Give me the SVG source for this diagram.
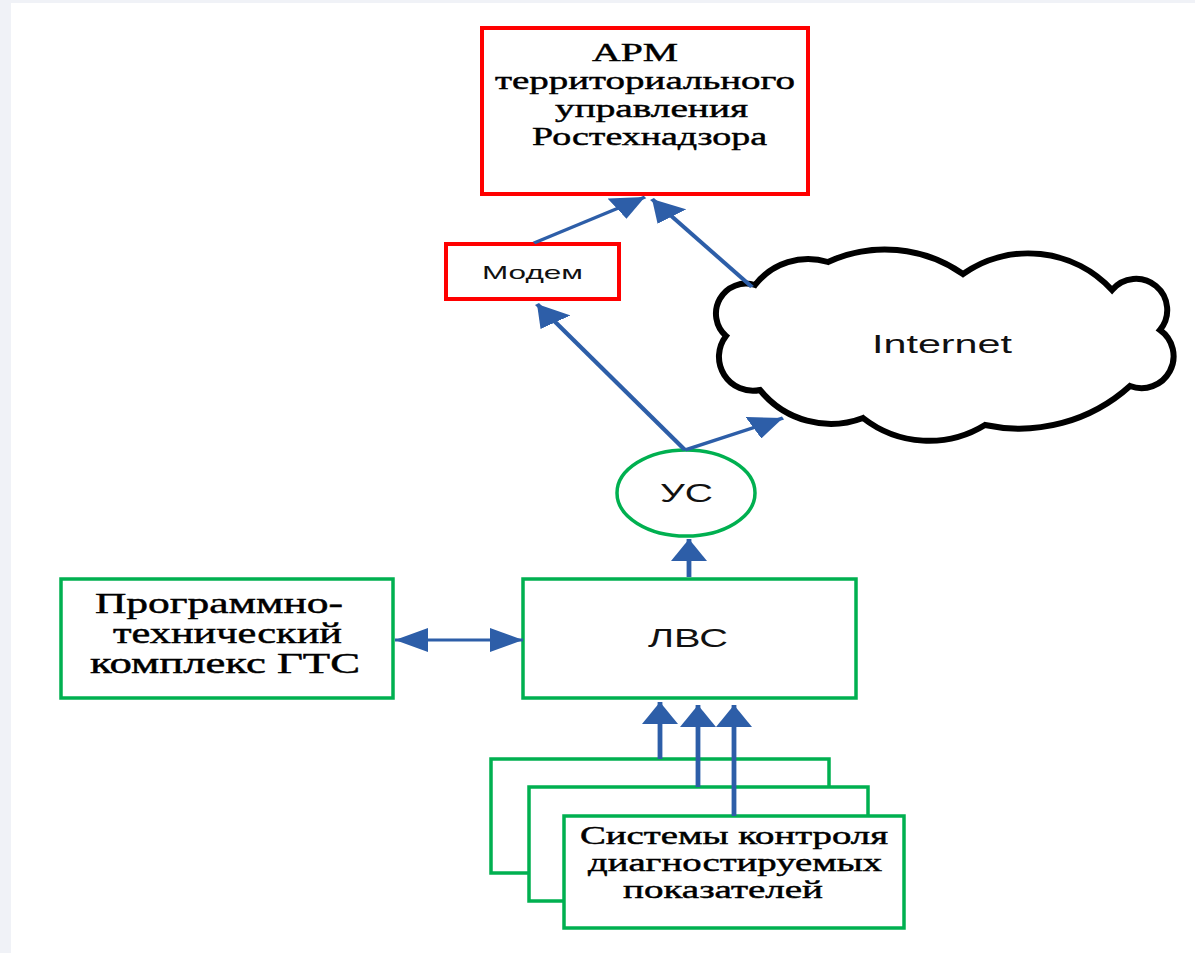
<svg xmlns="http://www.w3.org/2000/svg" width="1195" height="953" viewBox="0 0 1195 953">
  <style>
    .serif { font-family: "Liberation Serif", "Times New Roman", serif; fill: #000; stroke: #000; stroke-width: 0.45; }
    .sans { font-family: "Liberation Sans", Arial, sans-serif; fill: #111; }
    .red { fill: #fff; stroke: #ff0000; stroke-width: 4; }
    .green { fill: #fff; stroke: #00b050; stroke-width: 3.5; }
    .conn { stroke: #2d5ea8; stroke-width: 3.2; fill: none; }
  </style>
  <defs>
    <marker id="ah" markerUnits="userSpaceOnUse" viewBox="0 0 22 24" markerWidth="22" markerHeight="24" refX="22" refY="12" orient="auto-start-reverse">
      <path d="M0,0 L22,12 L0,24 Z" fill="#2d5ea8"/>
    </marker>
  </defs>
  <rect x="0" y="0" width="1195" height="953" fill="#f0f2f7"/>
  <rect x="11" y="3" width="1184" height="950" fill="#ffffff"/>

  <g id="arm">
    <rect class="red" x="482" y="28" width="326" height="166"/>
    <text class="serif" font-size="26" x="592" y="61" textLength="86" lengthAdjust="spacingAndGlyphs">АРМ</text>
    <text class="serif" font-size="26" x="495" y="89" textLength="300" lengthAdjust="spacingAndGlyphs">территориального</text>
    <text class="serif" font-size="26" x="555" y="117" textLength="193" lengthAdjust="spacingAndGlyphs">управления</text>
    <text class="serif" font-size="26" x="532" y="145" textLength="235" lengthAdjust="spacingAndGlyphs">Ростехнадзора</text>
  </g>

  <g id="modem">
    <rect class="red" x="446" y="244" width="173" height="55"/>
    <text class="sans" font-size="19" x="482" y="279" textLength="101" lengthAdjust="spacingAndGlyphs">Модем</text>
  </g>

  <g id="internet">
    <path d="M726,336 A30,30 0 0 1 755,285 A67,67 0 0 1 828,262 A136,136 0 0 1 963,274 A114,114 0 0 1 1112,290 A31,31 0 0 1 1160,330 A32,32 0 0 1 1130,386 A165,165 0 0 1 985,425 A107,107 0 0 1 863,418 A91,91 0 0 1 760,390 A34,34 0 0 1 726,336 Z" fill="#fff" stroke="#000" stroke-width="6" stroke-linejoin="miter"/>
    <text class="sans" font-size="25" x="872" y="353" textLength="140" lengthAdjust="spacingAndGlyphs">Internet</text>
  </g>

  <g id="us">
    <ellipse cx="686" cy="493" rx="69" ry="43" fill="#fff" stroke="#00b050" stroke-width="3.5"/>
    <text class="sans" font-size="25" x="660" y="502" textLength="53" lengthAdjust="spacingAndGlyphs">УС</text>
  </g>

  <g id="lvs">
    <rect class="green" x="523" y="579" width="333" height="119"/>
    <text class="sans" font-size="25" x="648" y="647" textLength="80" lengthAdjust="spacingAndGlyphs">ЛВС</text>
  </g>

  <g id="ptk">
    <rect class="green" x="61" y="579" width="332" height="119"/>
    <text class="serif" font-size="29" x="95" y="613" textLength="248" lengthAdjust="spacingAndGlyphs">Программно-</text>
    <text class="serif" font-size="29" x="113" y="643" textLength="229" lengthAdjust="spacingAndGlyphs">технический</text>
    <text class="serif" font-size="29" x="90" y="673" textLength="270" lengthAdjust="spacingAndGlyphs">комплекс ГТС</text>
  </g>

  <g id="systems">
    <rect class="green" x="491" y="759" width="338" height="114"/>
    <rect class="green" x="529" y="787" width="339" height="114"/>
    <rect class="green" x="564" y="816" width="340" height="112"/>
    <text class="serif" font-size="25" x="580" y="844" textLength="308" lengthAdjust="spacingAndGlyphs">Системы контроля</text>
    <text class="serif" font-size="25" x="588" y="871" textLength="294" lengthAdjust="spacingAndGlyphs">диагностируемых</text>
    <text class="serif" font-size="25" x="623" y="898" textLength="200" lengthAdjust="spacingAndGlyphs">показателей</text>
  </g>

  <g id="connectors" transform="scale(1.5 1)">
    <line class="conn" x1="356" y1="243" x2="430" y2="197" marker-end="url(#ah)"/>
    <line class="conn" x1="501.33" y1="287" x2="434.67" y2="199" marker-end="url(#ah)"/>
    <line class="conn" x1="456.67" y1="450" x2="358" y2="304" marker-end="url(#ah)"/>
    <line class="conn" x1="456.67" y1="450" x2="522" y2="418" marker-end="url(#ah)"/>
    <line class="conn" x1="459.33" y1="577" x2="459.33" y2="539" marker-end="url(#ah)"/>
    <line class="conn" x1="263.33" y1="640" x2="348.67" y2="640" marker-start="url(#ah)" marker-end="url(#ah)"/>
    <line class="conn" x1="440" y1="759" x2="440" y2="702" marker-end="url(#ah)"/>
    <line class="conn" x1="465.33" y1="787" x2="465.33" y2="705" marker-end="url(#ah)"/>
    <line class="conn" x1="489.33" y1="816" x2="489.33" y2="705" marker-end="url(#ah)"/>
  </g>
</svg>
